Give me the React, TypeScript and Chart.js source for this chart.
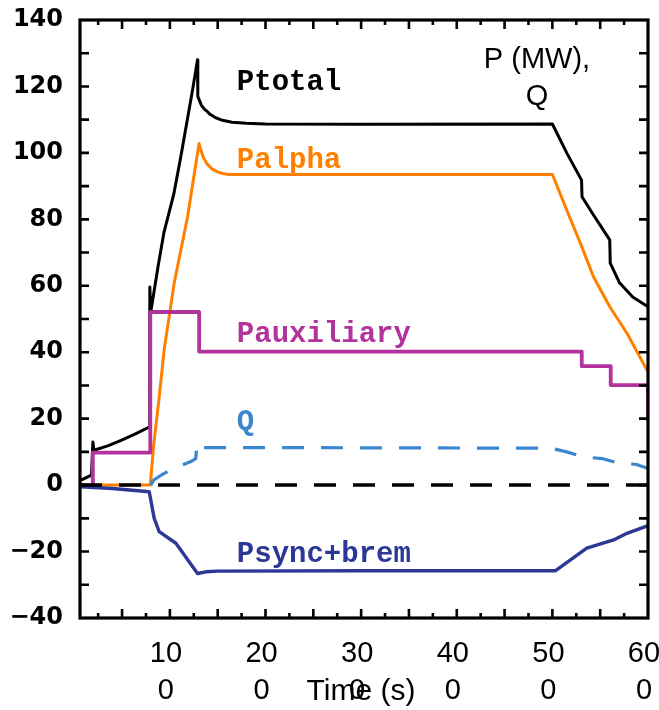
import React, { useEffect, useRef } from "react";
import { Chart, registerables } from "chart.js";

Chart.register(...registerables);

// ---- axes ----
const X_MIN = 6;
const X_MAX = 600;
const Y_MIN = -40;
const Y_MAX = 140;
const xTickValues = [100, 200, 300, 400, 500, 600];
const xTickLabels = [["10", "0"], ["20", "0"], ["30", "0"], ["40", "0"], ["50", "0"], ["60", "0"]];
const yTickValues = [-40, -20, 0, 20, 40, 60, 80, 100, 120, 140];
const yTickLabels = ["\u221240", "\u221220", "0", "20", "40", "60", "80", "100", "120", "140"];
const xAxisTitle = "Time (s)";
const yAxisTitle = ["P (MW),", "Q"];

// ---- series (time in s, value in MW) ----
const ptotalT = [7, 18, 19.5, 20.5, 35, 49, 64, 78.5, 79, 80, 87.5, 93.7, 104, 111.5, 123.7, 128.9, 129.2, 133, 136, 139.3, 142, 147, 155, 165, 180, 200, 300, 500, 515, 530.5, 531, 543, 560, 560.5, 570, 584, 600];
const ptotalV = [1.5, 3, 13, 10.5, 11.8, 13.5, 15.4, 17.5, 59.6, 52.1, 65.6, 75.9, 87.5, 99, 118.9, 128, 117, 114.3, 113.2, 112.4, 111.6, 110.7, 109.8, 109.2, 108.9, 108.7, 108.6, 108.7, 100, 91.8, 86.8, 81.3, 73.8, 66.8, 61, 56.6, 53.7];

const palphaT = [7, 79.5, 83, 88.5, 94, 104.5, 118.5, 130.5, 132.5, 135, 139.1, 144, 149.6, 155, 162, 500, 515, 530.7, 543, 560, 578, 600];
const palphaV = [0, 0, 12, 25.6, 40.7, 60.8, 80.8, 102.8, 100.8, 98.6, 96.6, 95.2, 94.3, 93.8, 93.5, 93.5, 82.8, 71.8, 62.7, 53.7, 45.7, 34.1];

const pauxT = [19.4, 19.4, 79.5, 79.5, 130.6, 130.6, 530.7, 530.7, 561, 561, 600, 600];
const pauxV = [0, 9.8, 9.8, 52.1, 52.1, 40.2, 40.2, 35.8, 35.8, 30.1, 30.1, 19.6];

const qT = [80, 83, 92, 104.5, 122, 127, 128.5, 131, 200, 499, 515, 532, 552, 567, 588, 600];
const qV = [0, 1.5, 3.2, 5.1, 7.1, 8, 12.6, 11.3, 11.3, 11.1, 10, 8.5, 8, 6.8, 6.2, 5];

const psyncT = [7, 40, 78.4, 83.6, 88.8, 106.3, 128.9, 137.6, 149.8, 300, 503, 536, 564, 578, 600];
const psyncV = [-0.5, -1, -2, -10, -14, -17.5, -26.6, -26.1, -25.9, -25.8, -25.8, -19, -16.5, -14.5, -12.2];

const zeroT = [X_MIN, X_MAX];
const zeroV = [0, 0];

// ---- in-plot series labels ----
const labelTexts = ["Ptotal", "Palpha", "Pauxiliary", "Q", "Psync+brem"];
const labelT = [170, 170, 170, 170, 170];
const labelV = [118.9, 95.4, 43.1, 16.6, -23.2];
const seriesColors = ["#000000", "#ff8000", "#b3339c", "#3a86cf", "#2d3796"];

const pts = (t: number[], v: number[]) => t.map((x, i) => ({ x, y: v[i] }));

const framePlugin = {
  id: "frameTicksText",
  afterDatasetsDraw(chart: any) {
    const { ctx, chartArea: a, scales } = chart;
    const xs = scales.x;
    const ys = scales.y;
    ctx.save();
    ctx.strokeStyle = "#000";
    ctx.lineWidth = 3.2;
    ctx.strokeRect(a.left, a.top, a.right - a.left, a.bottom - a.top);
    ctx.lineWidth = 2.6;
    ctx.beginPath();
    for (let v = Y_MIN + 10; v < Y_MAX; v += 10) {
      const py = ys.getPixelForValue(v);
      ctx.moveTo(a.left, py);
      ctx.lineTo(a.left + 9, py);
      ctx.moveTo(a.right, py);
      ctx.lineTo(a.right - 9, py);
    }
    for (let t = 25; t < X_MAX; t += 25) {
      const px = xs.getPixelForValue(t);
      const len = t % 50 === 0 ? 9 : 5;
      ctx.moveTo(px, a.bottom);
      ctx.lineTo(px, a.bottom - len);
      ctx.moveTo(px, a.top);
      ctx.lineTo(px, a.top + len);
    }
    ctx.stroke();

    // series labels
    ctx.font = "bold 29px 'Liberation Mono', 'Courier New', monospace";
    ctx.textAlign = "left";
    ctx.textBaseline = "alphabetic";
    labelTexts.forEach((s, i) => {
      ctx.fillStyle = seriesColors[i];
      ctx.fillText(s, xs.getPixelForValue(labelT[i]), ys.getPixelForValue(labelV[i]));
    });

    // axis titles
    ctx.fillStyle = "#000";
    ctx.font = "29px 'Liberation Sans', Arial, sans-serif";
    ctx.textAlign = "center";
    ctx.fillText(yAxisTitle[0], a.right - 111, a.top + 48);
    ctx.fillText(yAxisTitle[1], a.right - 111, a.top + 85);
    ctx.font = "30px 'Liberation Sans', Arial, sans-serif";
    ctx.fillText(xAxisTitle, a.left + 281, a.bottom + 82);
    ctx.restore();
  },
};

export default function App() {
  const ref = useRef<HTMLCanvasElement | null>(null);
  useEffect(() => {
    if (!ref.current) return;
    const chart = new Chart(ref.current, {
      type: "line",
      data: {
        datasets: [
          { label: "zero", data: pts(zeroT, zeroV), borderColor: "#000", borderWidth: 3.5, borderDash: [22, 17] },
          { label: "Psync+brem", data: pts(psyncT, psyncV), borderColor: seriesColors[4], borderWidth: 3.4 },
          { label: "Q", data: pts(qT, qV), borderColor: seriesColors[3], borderWidth: 3.2, borderDash: [22, 17] },
          { label: "Pauxiliary", data: pts(pauxT, pauxV), borderColor: seriesColors[2], borderWidth: 3.8 },
          { label: "Palpha", data: pts(palphaT, palphaV), borderColor: seriesColors[1], borderWidth: 3 },
          { label: "Ptotal", data: pts(ptotalT, ptotalV), borderColor: seriesColors[0], borderWidth: 3 },
        ],
      },
      options: {
        animation: false,
        responsive: false,
        devicePixelRatio: 1,
        parsing: false,
        layout: { padding: { top: 20, right: 11, left: 0, bottom: 0 } },
        elements: { point: { radius: 0 }, line: { tension: 0, borderJoinStyle: "round", borderCapStyle: "butt" } },
        plugins: { legend: { display: false }, tooltip: { enabled: false }, title: { display: false } },
        scales: {
          x: {
            type: "linear",
            min: X_MIN,
            max: X_MAX,
            grid: { display: false, drawTicks: false },
            border: { display: false },
            afterBuildTicks: (s: any) => {
              s.ticks = xTickValues.map((v) => ({ value: v }));
            },
            afterFit: (s: any) => {
              s.height = 92;
              s.paddingLeft = 0;
              s.paddingRight = 0;
            },
            ticks: {
              autoSkip: false,
              maxRotation: 0,
              minRotation: 0,
              padding: 18,
              labelOffset: -4,
              color: "#000",
              font: { family: "'Liberation Sans', Arial, sans-serif", size: 29, lineHeight: 1.27 },
              callback: (v: any) => xTickLabels[xTickValues.indexOf(Number(v))] ?? "",
            },
          },
          y: {
            type: "linear",
            min: Y_MIN,
            max: Y_MAX,
            grid: { display: false, drawTicks: false },
            border: { display: false },
            afterBuildTicks: (s: any) => {
              s.ticks = yTickValues.map((v) => ({ value: v }));
            },
            afterFit: (s: any) => {
              s.width = 80;
              s.paddingTop = 0;
              s.paddingBottom = 0;
            },
            ticks: {
              padding: 17,
              color: "#000",
              font: { family: "'DejaVu Sans', 'Liberation Sans', sans-serif", size: 24, weight: "bold" },
              callback: (v: any) => yTickLabels[yTickValues.indexOf(Number(v))] ?? "",
            },
          },
        },
      },
      plugins: [framePlugin],
    });
    return () => chart.destroy();
  }, []);
  return (
    <div style={{ position: "absolute", left: 0, top: 0, width: 659, height: 710, background: "#fff" }}>
      <canvas ref={ref} width={659} height={710} style={{ width: 659, height: 710, display: "block" }} />
    </div>
  );
}
